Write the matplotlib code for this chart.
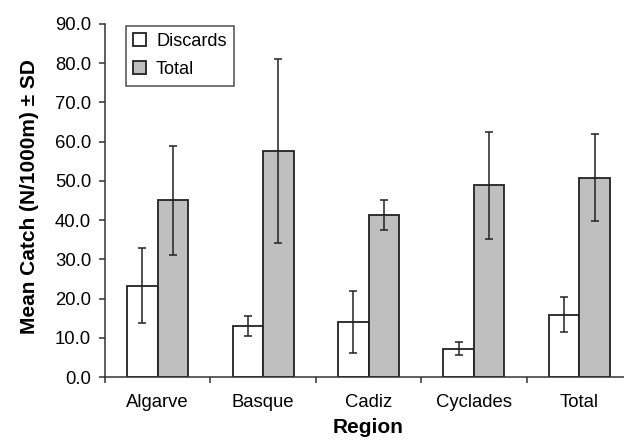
import matplotlib
matplotlib.use("Agg")
import matplotlib.pyplot as plt
import numpy as np

plt.rcParams['font.family'] = ['Liberation Sans', 'DejaVu Sans']

regions = ["Algarve", "Basque", "Cadiz", "Cyclades", "Total"]
discards = [23.3, 13.0, 14.0, 7.2, 15.9]
discards_sd = [9.6, 2.5, 7.8, 1.6, 4.5]
total = [45.0, 57.6, 41.3, 48.9, 50.8]
total_sd = [13.8, 23.4, 3.9, 13.6, 11.1]
yticks = [0, 10, 20, 30, 40, 50, 60, 70, 80, 90]

fig = plt.figure(figsize=(6.24, 4.40), dpi=100)
ax = fig.add_axes([105/624, 63/440, 527/624, 353/440])

x = np.arange(len(regions))
w = 0.29
edge = '#222222'
err_kw = dict(ecolor='#222222', elinewidth=1.1, capsize=3, capthick=1.1)
ax.bar(x - w/2, discards, w, yerr=discards_sd, color='white', edgecolor=edge,
       linewidth=1.3, label='Discards', error_kw=err_kw)
ax.bar(x + w/2, total, w, yerr=total_sd, color='#bfbfbf', edgecolor=edge,
       linewidth=1.3, label='Total', error_kw=err_kw)

ax.set_xlim(-0.5, len(regions) - 0.5)
ax.set_ylim(0, 90)
ax.set_yticks(yticks)
ax.set_yticklabels([f"{v:.1f}" for v in yticks])
ax.set_xticks(np.arange(len(regions) + 1) - 0.5)
ax.set_xticklabels([])
ax.set_xticks(x, minor=True)
ax.set_xticklabels(regions, minor=True)
ax.tick_params(axis='x', which='minor', length=0, pad=12, labelsize=13.3)
ax.tick_params(axis='x', which='major', direction='out', length=4, width=1.1, color='#333333')
ax.tick_params(axis='y', direction='out', length=4, width=1.1, color='#333333', labelsize=13.3, pad=6)

for s in ['top', 'right']:
    ax.spines[s].set_visible(False)
for s in ['left', 'bottom']:
    ax.spines[s].set_color('#333333')
    ax.spines[s].set_linewidth(1.1)

ax.set_xlabel('Region', fontsize=15, fontweight='bold', labelpad=5)
ax.set_ylabel('Mean Catch (N/1000m) ± SD', fontsize=15, fontweight='bold')
ax.yaxis.set_label_coords(-0.125, 0.51)

leg = ax.legend(loc='upper left', bbox_to_anchor=(125.7/624, 1 - 25.7/440),
                bbox_transform=fig.transFigure, borderaxespad=0, fontsize=13.1,
                frameon=True, fancybox=False, handlelength=0.72, handleheight=0.72,
                handletextpad=0.55, labelspacing=0.62, borderpad=0.4)
leg.get_frame().set_edgecolor('#222222')
leg.get_frame().set_linewidth(1.1)

fig.savefig('out.png', dpi=100)
